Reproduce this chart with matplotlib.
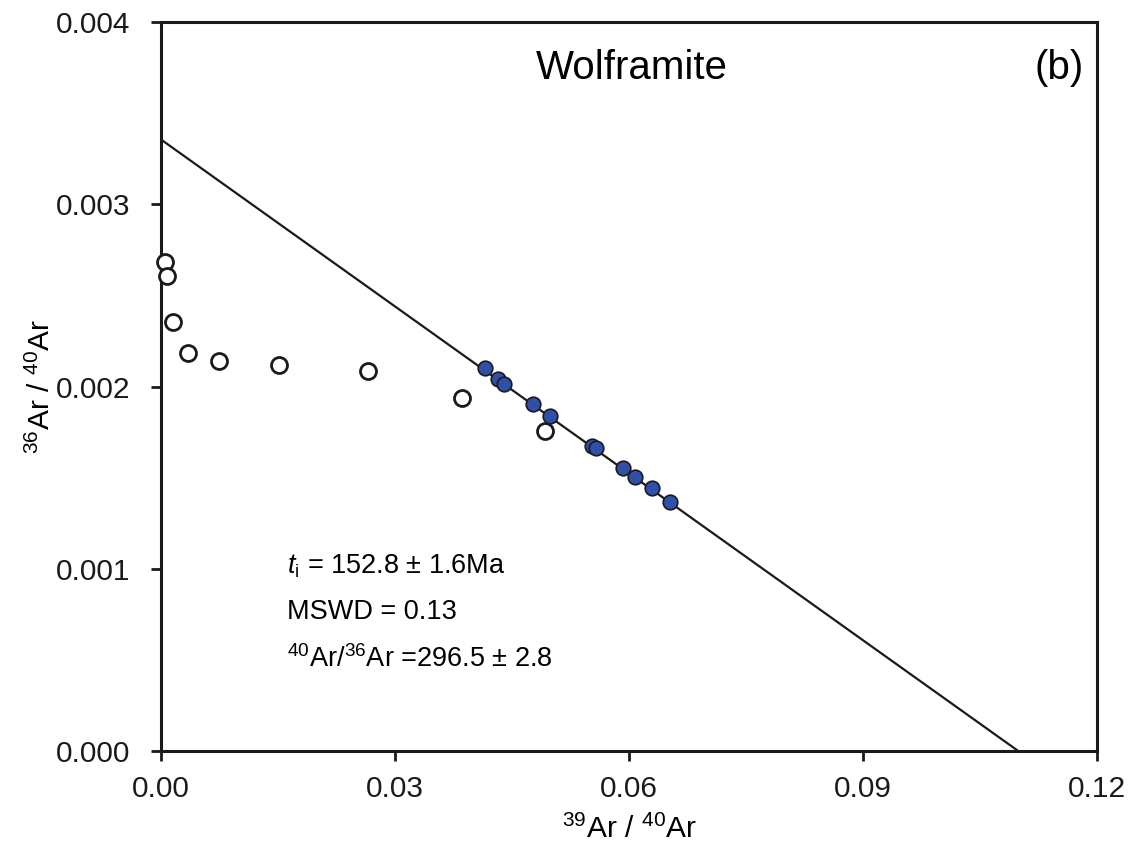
import matplotlib
matplotlib.use("Agg")
import matplotlib.pyplot as plt
import numpy as np

plt.rcParams["font.family"] = ["Liberation Sans", "DejaVu Sans"]
plt.rcParams["mathtext.fontset"] = "custom"
plt.rcParams["mathtext.rm"] = "Liberation Sans"
plt.rcParams["mathtext.it"] = "Liberation Sans:italic"

# open circles (not used in isochron)
open_x = [0.0005, 0.0008, 0.0015, 0.0035, 0.0074, 0.0151, 0.0265, 0.0386, 0.0492]
open_y = [0.002683, 0.002606, 0.002354, 0.002184, 0.00214, 0.002118, 0.002085, 0.001937, 0.001756]

# filled circles (isochron points)
fill_x = [0.04154, 0.04321, 0.04397, 0.04769, 0.04987, 0.05526, 0.05577, 0.05923, 0.06077, 0.06295, 0.06526]
fill_y = [0.002102, 0.002041, 0.002014, 0.001904, 0.001838, 0.001674, 0.001663, 0.001553, 0.001503, 0.001443, 0.001366]

# isochron line: y-intercept and x-intercept
y_int = 0.003355
x_int = 0.1099

x_ticks = [0.0, 0.03, 0.06, 0.09, 0.12]
y_ticks = [0.0, 0.001, 0.002, 0.003, 0.004]

fig = plt.figure(figsize=(11.31, 8.43), dpi=100)
ax = fig.add_axes([0.1424, 0.1091, 0.8276, 0.8648])

ax.plot([0, x_int], [y_int, 0], color="#1a1a1a", lw=1.6, zorder=2)
ax.plot(open_x, open_y, "o", ms=11.5, mfc="white", mec="#1a1a1a", mew=2.0,
        zorder=3, clip_on=False)
ax.plot(fill_x, fill_y, "o", ms=10.5, mfc="#2f4fa8", mec="#1a1a1a", mew=1.2,
        zorder=4)

ax.set_xlim(0, 0.12)
ax.set_ylim(0, 0.004)
ax.set_xticks(x_ticks)
ax.set_yticks(y_ticks)
ax.set_xticklabels(["%.2f" % v for v in x_ticks])
ax.set_yticklabels(["%.3f" % v for v in y_ticks])
ax.tick_params(direction="out", length=7, width=2.0, labelsize=21.5, colors="#1a1a1a")
ax.tick_params(axis="x", pad=10)
ax.tick_params(axis="y", pad=15)
for s in ax.spines.values():
    s.set_linewidth(2.2)
    s.set_color("#1a1a1a")

ax.set_xlabel(r"$^{39}$Ar / $^{40}$Ar", fontsize=21.5, labelpad=9)
ax.set_ylabel(r"$^{36}$Ar / $^{40}$Ar", fontsize=21.5, labelpad=0)

ax.text(0.503, 0.937, "Wolframite", transform=ax.transAxes, fontsize=29,
        ha="center", va="center")
ax.text(0.986, 0.937, "(b)", transform=ax.transAxes, fontsize=29,
        ha="right", va="center")

ax.text(0.1346, 0.2538, r"$\mathit{t}_{\mathrm{i}}$ = 152.8 ± 1.6Ma", transform=ax.transAxes,
        fontsize=19.5, ha="left", va="center")
ax.text(0.1346, 0.1907, "MSWD = 0.13", transform=ax.transAxes,
        fontsize=19.5, ha="left", va="center")
ax.text(0.1346, 0.1262, r"$^{40}$Ar/$^{36}$Ar =296.5 ± 2.8", transform=ax.transAxes,
        fontsize=19.5, ha="left", va="center")

fig.savefig("out.png", dpi=100)
